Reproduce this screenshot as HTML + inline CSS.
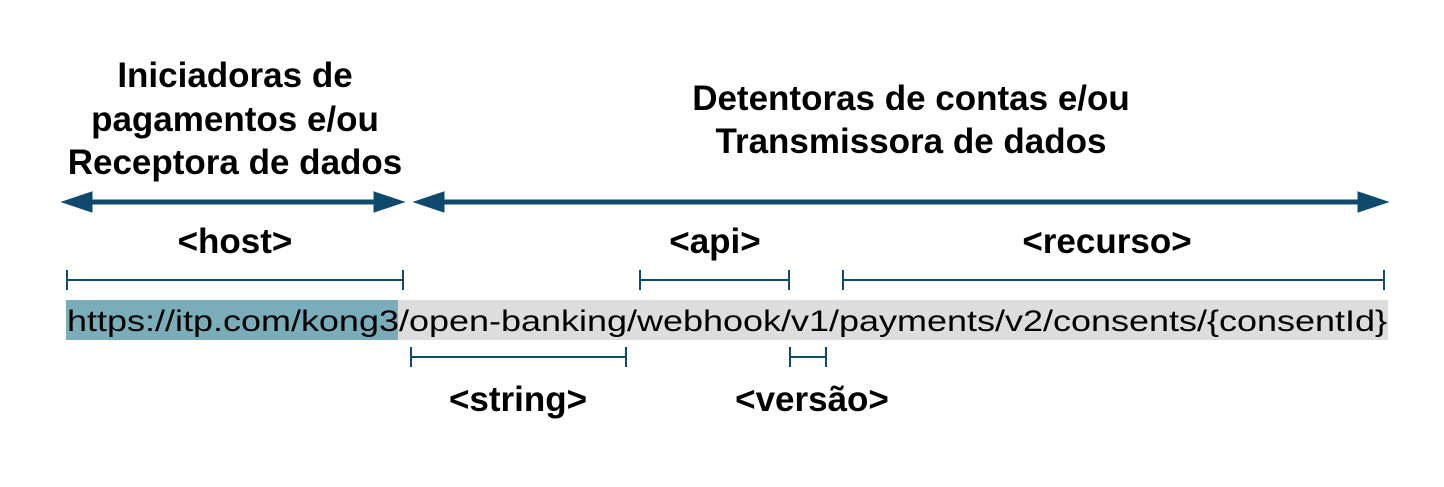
<!DOCTYPE html>
<html><head><meta charset="utf-8"><style>body{margin:0;background:#fff}</style></head><body>
<svg width="1444" height="482" xmlns="http://www.w3.org/2000/svg" font-family="Liberation Sans, Arial, sans-serif">
<rect width="1444" height="482" fill="#fff"/>
<g font-weight="bold" font-size="35" text-anchor="middle" fill="#000">
<text x="235" y="87">Iniciadoras de</text>
<text x="235" y="131">pagamentos e/ou</text>
<text x="235" y="174">Receptora de dados</text>
<text x="911" y="110">Detentoras de contas e/ou</text>
<text x="911" y="153">Transmissora de dados</text>
<text x="235" y="253">&lt;host&gt;</text>
<text x="715" y="253">&lt;api&gt;</text>
<text x="1107" y="253">&lt;recurso&gt;</text>
<text x="518" y="411">&lt;string&gt;</text>
<text x="812" y="411">&lt;versão&gt;</text>
</g>
<g stroke="#0e4a6e" fill="#0e4a6e">
<line x1="80" y1="202" x2="386" y2="202" stroke-width="5"/>
<polygon points="62,202 92,192 92,212"/><polygon points="404,202 374,192 374,212"/>
<line x1="432" y1="202" x2="1370" y2="202" stroke-width="5"/>
<polygon points="414,202 444,192 444,212"/><polygon points="1388,202 1358,192 1358,212"/>
</g>
<g stroke="#0e4a6e" stroke-width="2" fill="none">
<path d="M67,270V290M67,280H403M403,270V290"/>
<path d="M640,270V290M640,280H789M789,270V290"/>
<path d="M843,270V290M843,280H1384M1384,270V290"/>
<path d="M411,347V367M411,357H626M626,347V367"/>
<path d="M790,347V367M790,357H826M826,347V367"/>
</g>
<rect x="66" y="300" width="1322" height="40" fill="#dddddd"/>
<rect x="66" y="300" width="332" height="40" fill="#78adb9"/>
<text x="67" y="331" font-size="30" fill="#000" textLength="1320" lengthAdjust="spacingAndGlyphs">https://itp.com/kong3/open-banking/webhook/v1/payments/v2/consents/{consentId}</text>
</svg>
</body></html>
